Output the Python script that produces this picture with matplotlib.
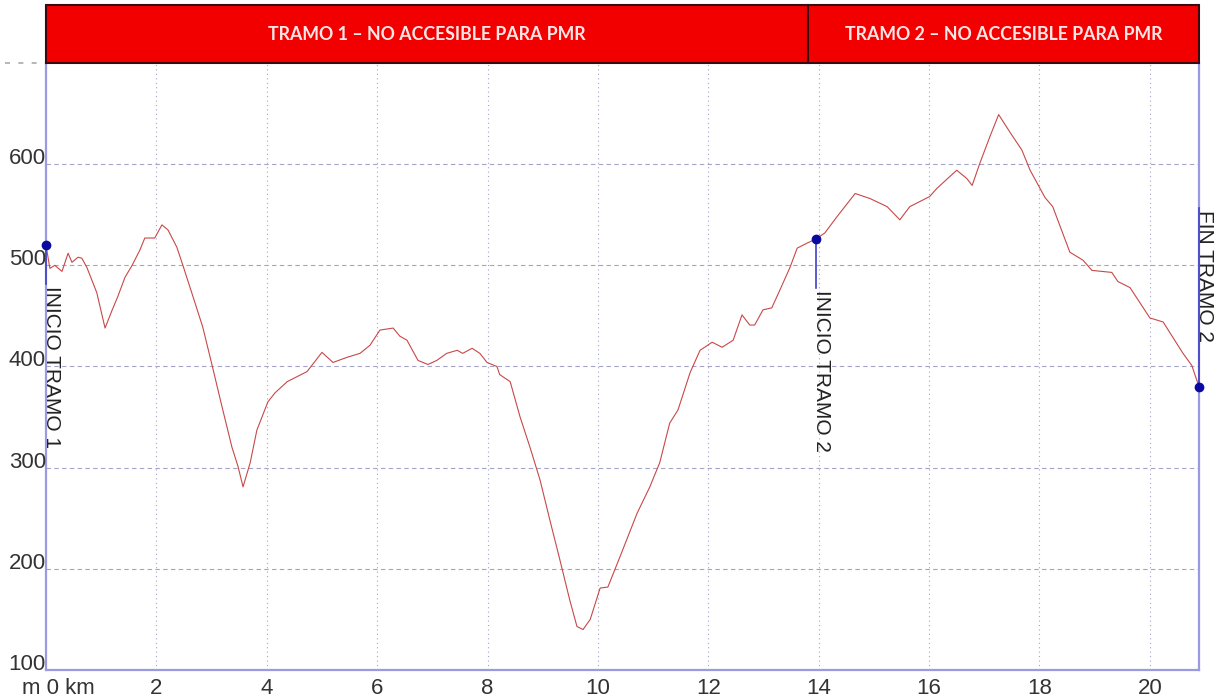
import matplotlib
matplotlib.use("Agg")
import matplotlib.pyplot as plt
import matplotlib.transforms as mtransforms
from matplotlib.patches import Rectangle

# ---- data ----
dist_km = [0.00, 0.07, 0.16, 0.29, 0.40, 0.47, 0.58, 0.65, 0.74, 0.92, 1.07, 1.20, 1.30, 1.43,
           1.56, 1.70, 1.79, 1.97, 2.10, 2.21, 2.37, 2.48, 2.64, 2.84, 3.01, 3.19, 3.37, 3.48,
           3.57, 3.70, 3.82, 4.02, 4.15, 4.37, 4.55, 4.73, 5.00, 5.20, 5.45, 5.69, 5.87, 6.05,
           6.29, 6.41, 6.54, 6.74, 6.92, 7.08, 7.26, 7.45, 7.55, 7.72, 7.86, 7.99, 8.17, 8.22,
           8.41, 8.59, 8.77, 8.95, 9.13, 9.31, 9.49, 9.62, 9.73, 9.86, 10.04, 10.18, 10.40,
           10.71, 10.94, 11.12, 11.30, 11.45, 11.67, 11.85, 12.07, 12.25, 12.45, 12.61, 12.75,
           12.84, 12.99, 13.15, 13.30, 13.48, 13.61, 13.79, 13.95, 14.11, 14.33, 14.66, 14.93,
           15.24, 15.47, 15.65, 16.01, 16.14, 16.50, 16.68, 16.78, 16.92, 17.10, 17.26, 17.46,
           17.68, 17.83, 18.10, 18.24, 18.55, 18.79, 18.95, 19.31, 19.42, 19.64, 20.00, 20.24,
           20.60, 20.76, 20.89]
elev_m = [520, 497, 500, 494, 512, 503, 508, 507, 498, 473, 438, 456, 469, 488,
          500, 515, 527, 527, 540, 535, 518, 500, 473, 439, 401, 360, 320, 301,
          281, 305, 337, 365, 374, 385, 390, 395, 414, 404, 409, 413, 421, 436,
          438, 430, 426, 406, 402, 406, 413, 416, 413, 418, 413, 404, 400, 392,
          385, 350, 320, 288, 248, 209, 169, 143, 140, 150, 181, 182, 212,
          255, 281, 305, 344, 357, 394, 416, 424, 419, 426, 451, 441,
          441, 456, 458, 476, 498, 517, 522, 526, 532, 548, 571, 566,
          558, 545, 558, 568, 576, 594, 586, 579, 601, 627, 649, 632,
          614, 594, 567, 558, 513, 505, 495, 493, 484, 478, 448, 444,
          413, 401, 380]

yticks = [100, 200, 300, 400, 500, 600]
xticks = [2, 4, 6, 8, 10, 12, 14, 16, 18, 20]
xtick_labels = ["2", "4", "6", "8", "10", "12", "14", "16", "18", "20"]

tramo_bounds = [0.0, 13.8, 20.89]
tramo_labels = ["TRAMO 1 \u2013 NO ACCESIBLE PARA PMR", "TRAMO 2 \u2013 NO ACCESIBLE PARA PMR"]

waypoint_km = [0.0, 13.95, 20.89]
waypoint_elev = [520, 526, 380]
waypoint_labels = ["INICIO TRAMO 1", "INICIO TRAMO 2", "FIN TRAMO 2"]
waypoint_text_elev = [482, 478, 557]

# ---- figure ----
W, H = 1226, 700
fig = plt.figure(figsize=(W / 100, H / 100), dpi=100)
ax = fig.add_axes([46 / W, 30 / H, (1199 - 46) / W, (670 - 63) / H])
ax.set_xlim(0, 20.89)
ax.set_ylim(100, 700)

spine_c = "#9a9ae0"
for s in ["left", "bottom", "right"]:
    ax.spines[s].set_color(spine_c)
    ax.spines[s].set_linewidth(1.6)
ax.spines["top"].set_visible(False)
ax.set_xticks([])
ax.set_yticks([])

grid_c = "#a4a4c8"
for v in yticks[1:]:
    ax.axhline(v, color=grid_c, lw=0.8, ls=(0, (4, 3)), zorder=1)
for v in xticks:
    ax.axvline(v, color=grid_c, lw=0.8, ls=(0, (1, 3)), zorder=1)
# short dashed tick to the left at the top
ax.plot([-0.75, 0], [700, 700], color="#aaaaaa", lw=1.2, ls=(0, (3, 5)), clip_on=False)

font = "Liberation Sans"
ytrans = ax.get_yaxis_transform()
for v in yticks:
    ax.text(0, v, str(v), transform=ytrans, ha="right", va="baseline",
            fontsize=16, color="#333333", family=font)
xtrans = ax.get_xaxis_transform()
off = mtransforms.ScaledTranslation(0, -6 / 72, fig.dpi_scale_trans)
for v, lab in zip(xticks, xtick_labels):
    ax.text(v, 0, lab, transform=xtrans + off, ha="center", va="top",
            fontsize=16, color="#333333", family=font)
off0 = mtransforms.ScaledTranslation(12 / 100, -6 / 72, fig.dpi_scale_trans)
ax.text(0, 0, "m 0 km", transform=xtrans + off0, ha="center", va="top",
        fontsize=16, color="#333333", family=font)

# profile
ax.plot(dist_km, elev_m, color="#c84848", lw=0.8, zorder=3)

# waypoints
for xk, ye, lab, te in zip(waypoint_km, waypoint_elev, waypoint_labels, waypoint_text_elev):
    ax.plot([xk, xk], [ye, te], color="#4040c8", lw=1.2, zorder=4, clip_on=False)
    ax.plot([xk], [ye], "o", color="#0a0aa0", ms=6, zorder=5, clip_on=False)
    ax.text(xk, te - 2, lab, rotation=-90, ha="left", va="baseline", fontsize=15,
            color="#222222", family=font, rotation_mode="anchor", zorder=6)

# banner
bax = fig.add_axes([46 / W, (700 - 63) / H, (1199 - 46) / W, 58 / H])
bax.set_xlim(0, 20.89)
bax.set_ylim(0, 1)
bax.axis("off")
for i, lab in enumerate(tramo_labels):
    x0, x1 = tramo_bounds[i], tramo_bounds[i + 1]
    bax.add_patch(Rectangle((x0, 0), x1 - x0, 1, facecolor="#f20000",
                            edgecolor="#3a0a10", lw=1.5, clip_on=False))
    bax.text((x0 + x1) / 2, 0.5, lab, ha="center", va="center", fontsize=12.8,
             fontweight="bold", color="#fde6e6", family="Lato")

fig.savefig("out.png", dpi=100)
